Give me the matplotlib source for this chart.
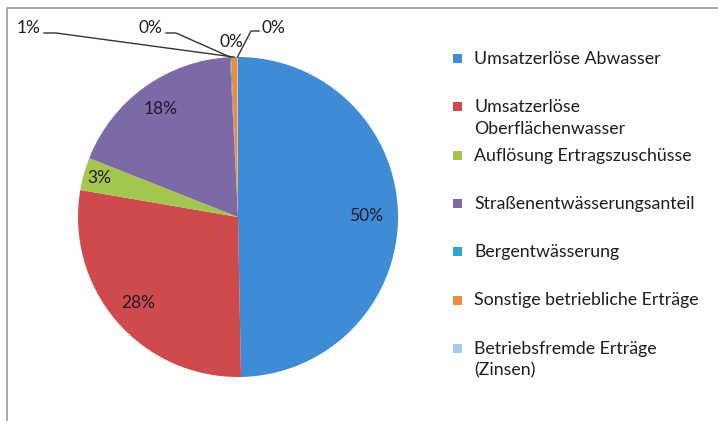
import numpy as np
import matplotlib
matplotlib.use("Agg")
import matplotlib.pyplot as plt
from matplotlib.lines import Line2D
from matplotlib.patches import Rectangle

plt.rcParams['font.family'] = ['Lato', 'DejaVu Sans']

# data (share of revenue, percent)
categories = ['Umsatzerlöse Abwasser', 'Umsatzerlöse\nOberflächenwasser',
              'Auflösung Ertragszuschüsse', 'Straßenentwässerungsanteil',
              'Bergentwässerung', 'Sonstige betriebliche Erträge',
              'Betriebsfremde Erträge\n(Zinsen)', '']
values = [49.7, 28.0, 3.3, 18.2, 0.1, 0.6, 0.1, 0.0]
labels = ['50%', '28%', '3%', '18%', '0%', '1%', '0%', '0%']
colors = ['#3f8bd6', '#cf4a4c', '#a3c64e', '#7d69a6', '#2aa7c9', '#f08a3e',
          '#a9c8ec', '#ffffff']

W, H = 718, 421
fig = plt.figure(figsize=(W / 100, H / 100), dpi=100)

# pie centre ~ (238, 217) px, radius ~160 px
cx, cy, r = 238, 217, 160
ax = fig.add_axes([(cx - r) / W, (H - cy - r) / H, 2 * r / W, 2 * r / H])
wedges, _ = ax.pie(values, colors=colors, startangle=90, counterclock=False,
                   radius=1.0, wedgeprops=dict(linewidth=0))
ax.set_xlim(-1, 1)
ax.set_ylim(-1, 1)
ax.set_aspect('equal')
ax.axis('off')

txt_color = '#1c1c2c'

# labels inside the big slices
inside_r = [0.8, 0.82, 0.9, 0.83]
for i in range(4):
    w = wedges[i]
    ang = np.deg2rad((w.theta1 + w.theta2) / 2)
    ax.text(inside_r[i] * np.cos(ang), inside_r[i] * np.sin(ang), labels[i],
            ha='center', va='center', fontsize=12.5, color=txt_color)

# small slices: labels above the pie with leader lines (figure pixels, top-left origin)
small = {
    5: dict(pos=(29, 28), leader=[(44, 33), (56, 33)]),
    4: dict(pos=(150, 28), leader=[(166, 33), (176, 33)]),
    7: dict(pos=(231, 42), leader=None),
    6: dict(pos=(273, 28), leader=[(259, 31), (251, 31)]),
}
for i, spec in small.items():
    x, y = spec['pos']
    fig.text(x / W, 1 - y / H, labels[i], ha='center', va='center',
             fontsize=12.5, color=txt_color)
    if spec['leader'] is not None:
        w = wedges[i]
        ang = np.deg2rad((w.theta1 + w.theta2) / 2)
        px, py = ax.transData.transform((np.cos(ang), np.sin(ang)))
        xs = [p[0] for p in spec['leader']] + [px]
        ys = [H - p[1] for p in spec['leader']] + [py]
        fig.add_artist(Line2D(np.array(xs) / W, np.array(ys) / H,
                              transform=fig.transFigure, color='#333333', lw=1))

# legend, drawn by hand to mimic the spreadsheet layout
y0, dy = 58, 48.3
for i, name in enumerate(categories):
    if not name:
        continue
    y = y0 + i * dy
    fig.add_artist(Rectangle((453 / W, 1 - (y + 5) / H), 9 / W, 9 / H,
                             transform=fig.transFigure, facecolor=colors[i],
                             edgecolor='none'))
    fig.text(474 / W, 1 - (y - 7) / H, name, ha='left', va='top',
             fontsize=12.8, color='#1e1e1e', linespacing=1.45)

# chart frame (only top and left edge visible in the scan)
fig.add_artist(Line2D([7 / W, 7 / W, 1], [0, 1 - 8 / H, 1 - 8 / H],
                      transform=fig.transFigure, color='#9a9a9a', lw=1.2))

fig.savefig('out.png', dpi=100)
